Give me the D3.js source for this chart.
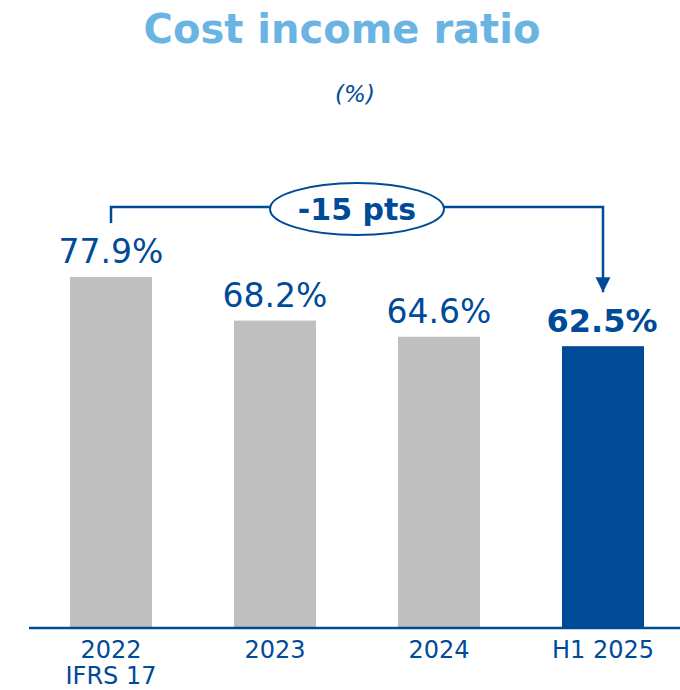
<!DOCTYPE html>
<html>
<head>
<meta charset="utf-8">
<script src="https://cdn.jsdelivr.net/npm/d3@7"></script>
<style>
  body { margin: 0; background: #fff; }
  svg text { font-family: "DejaVu Sans", "Open Sans", sans-serif; }
</style>
</head>
<body>
<div id="chart"></div>
<script>
'use strict'
var categories = ["2022|IFRS 17", "2023", "2024", "H1 2025"];
var values = [77.9, 68.2, 64.6, 62.5];
var valueLabels = ["77.9%", "68.2%", "64.6%", "62.5%"];
var highlight = [false, false, false, true];
var deltaLabel = "-15 pts";

var W = 680, H = 690,
    DARK = "#004b98", GREY = "#bfbfbf", LIGHT = "#6ab4e4";

var svg = d3.select("#chart").append("svg")
    .attr("width", W).attr("height", H);

//title + unit
svg.append("text")
    .attr("x", 342).attr("y", 43)
    .attr("text-anchor", "middle")
    .attr("font-size", 40).attr("font-weight", 700)
    .attr("fill", LIGHT)
    .text("Cost income ratio");

svg.append("text")
    .attr("x", 355).attr("y", 102)
    .attr("text-anchor", "middle")
    .attr("font-size", 23).attr("font-style", "italic")
    .attr("fill", DARK)
    .text("(%)");

var x = d3.scaleBand()
    .domain(categories)
    .range([29, 685])
    .paddingInner(0.5)
    .paddingOuter(0.25);

var y = d3.scaleLinear()
    .domain([0, 77.9])
    .range([627, 277]);

//bars
svg.append("g").selectAll("rect")
    .data(values)
    .enter().append("rect")
    .attr("x", function(d, i){ return x(categories[i]); })
    .attr("y", function(d){ return y(d); })
    .attr("width", x.bandwidth())
    .attr("height", function(d){ return y(0) - y(d); })
    .attr("fill", function(d, i){ return highlight[i] ? DARK : GREY; });

//value labels
svg.append("g").selectAll("text")
    .data(values)
    .enter().append("text")
    .attr("x", function(d, i){ return x(categories[i]) + x.bandwidth()/2 + (highlight[i] ? -1 : 0); })
    .attr("y", function(d){ return y(d) - 14; })
    .attr("text-anchor", "middle")
    .attr("font-size", function(d, i){ return highlight[i] ? 32 : 33; })
    .attr("font-weight", function(d, i){ return highlight[i] ? 700 : 400; })
    .attr("fill", DARK)
    .text(function(d, i){ return valueLabels[i]; });

//axis baseline
svg.append("line")
    .attr("x1", 29).attr("x2", W)
    .attr("y1", y(0) + 1).attr("y2", y(0) + 1)
    .attr("stroke", DARK).attr("stroke-width", 2.5);

//category labels, split on |
var catG = svg.append("g").selectAll("text")
    .data(categories)
    .enter().append("text")
    .attr("x", function(d){ return x(d) + x.bandwidth()/2; })
    .attr("y", 658)
    .attr("text-anchor", "middle")
    .attr("font-size", 24)
    .attr("fill", DARK);

catG.selectAll("tspan")
    .data(function(d){ return d.split("|"); })
    .enter().append("tspan")
    .attr("x", function(){ return d3.select(this.parentNode).attr("x"); })
    .attr("dy", function(d, i){ return i ? 26 : 0; })
    .text(function(d){ return d; });

//bracket with arrow from first to last bar
var cx0 = x(categories[0]) + x.bandwidth()/2,
    cx3 = x(categories[3]) + x.bandwidth()/2,
    lineY = 207,
    ex = 357, erx = 87, ery = 26;

svg.append("defs").append("marker")
    .attr("id", "arrow")
    .attr("viewBox", "0 0 10 10")
    .attr("refX", 10).attr("refY", 5)
    .attr("markerWidth", 6).attr("markerHeight", 6.4)
    .attr("markerUnits", "strokeWidth")
    .attr("orient", "auto")
    .append("path")
    .attr("d", "M0,0 L10,5 L0,10 Z")
    .attr("fill", DARK);

svg.append("path")
    .attr("d", "M" + cx0 + "," + 223 + "V" + lineY + "H" + (ex - erx))
    .attr("fill", "none").attr("stroke", DARK).attr("stroke-width", 2.5);

svg.append("path")
    .attr("d", "M" + (ex + erx) + "," + lineY + "H" + cx3 + "V" + (y(values[3]) - 54))
    .attr("fill", "none").attr("stroke", DARK).attr("stroke-width", 2.5)
    .attr("marker-end", "url(#arrow)");

svg.append("ellipse")
    .attr("cx", ex).attr("cy", lineY + 2)
    .attr("rx", erx).attr("ry", ery)
    .attr("fill", "#fff").attr("stroke", DARK).attr("stroke-width", 2);

svg.append("text")
    .attr("x", ex).attr("y", lineY + 13)
    .attr("text-anchor", "middle")
    .attr("font-size", 30).attr("font-weight", 700)
    .attr("fill", DARK)
    .text(deltaLabel);
</script>
</body>
</html>
